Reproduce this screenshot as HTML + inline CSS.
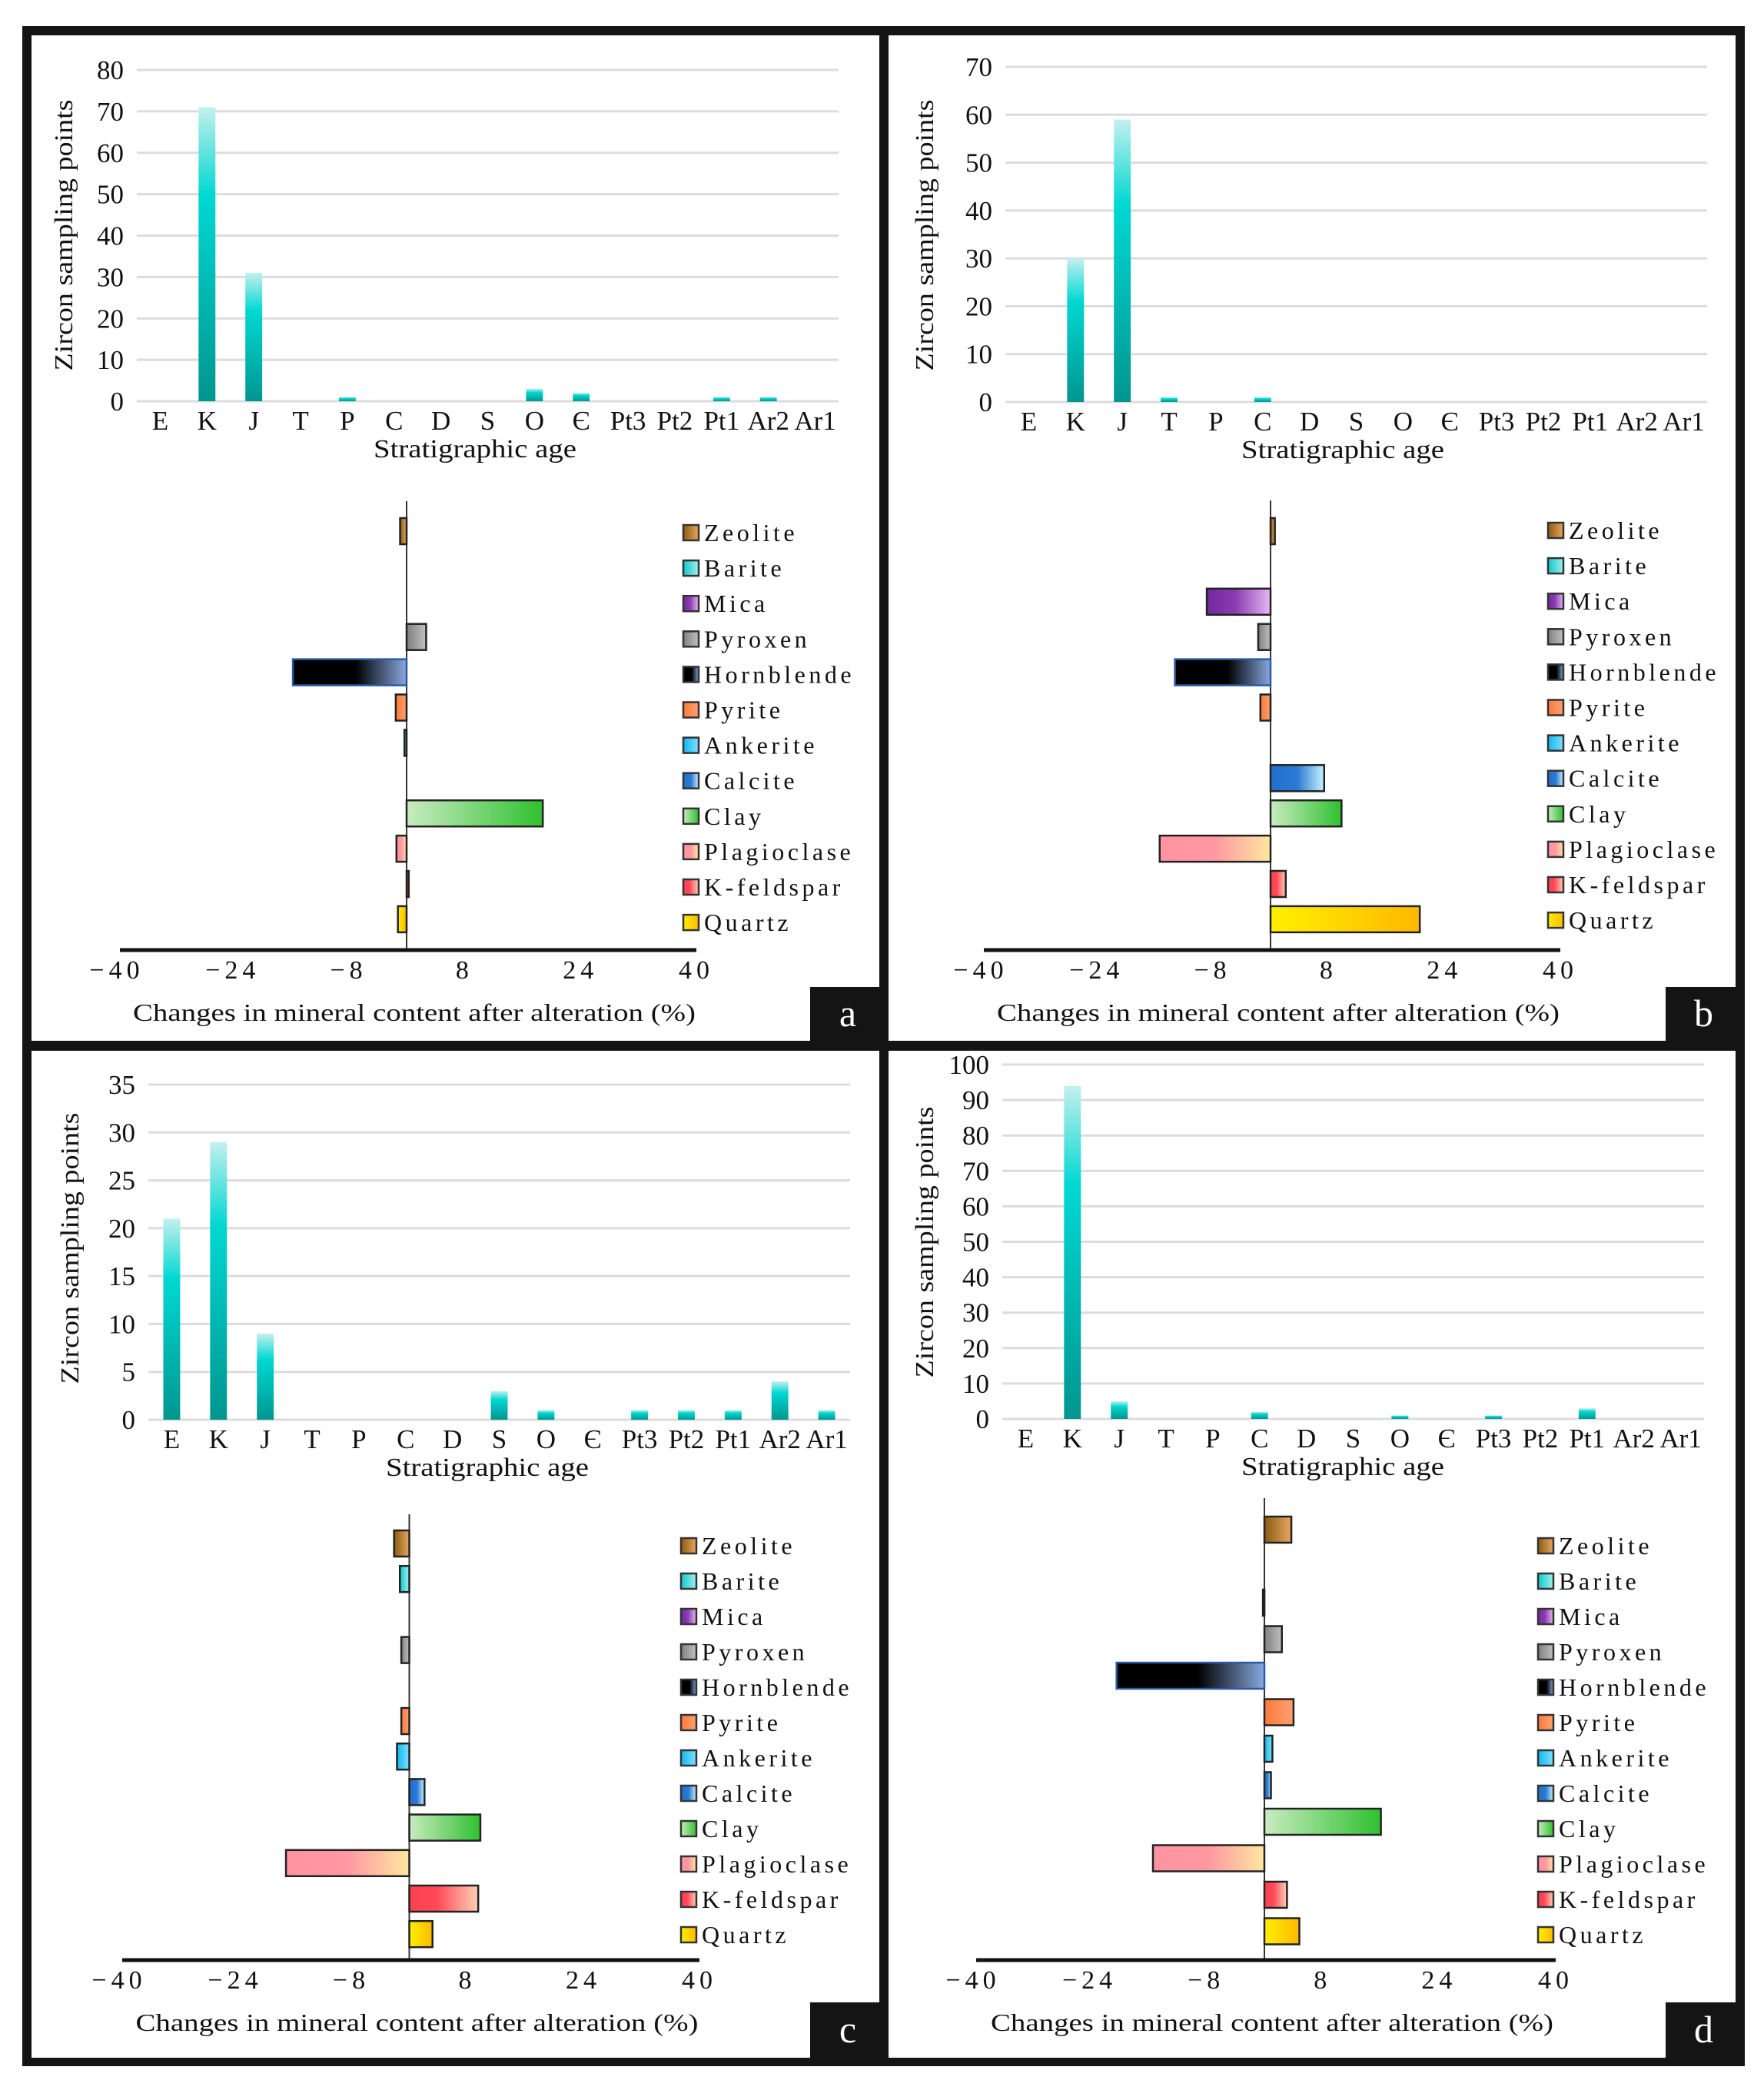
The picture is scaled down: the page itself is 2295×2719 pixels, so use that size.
<!DOCTYPE html>
<html><head><meta charset="utf-8"><style>
html,body{margin:0;padding:0;background:#fff;}
svg{display:block;font-family:"Liberation Serif",serif;}
</style></head><body>
<svg id="fig" width="2295" height="2719" viewBox="0 0 2295 2719" xmlns="http://www.w3.org/2000/svg">
<defs>
<linearGradient id="gTop" x1="0" y1="0" x2="0" y2="1"><stop offset="0" stop-color="#c4f0ee"/><stop offset="0.3" stop-color="#00d8d2"/><stop offset="1" stop-color="#00968f"/></linearGradient>
<linearGradient id="gZeolite" x1="0" x2="1"><stop offset="0" stop-color="#8a5a12"/><stop offset="1" stop-color="#e8a860"/></linearGradient>
<linearGradient id="gBarite" x1="0" x2="1"><stop offset="0" stop-color="#10c8c8"/><stop offset="1" stop-color="#a0f0f0"/></linearGradient>
<linearGradient id="gMica" x1="0" x2="1"><stop offset="0" stop-color="#7428a0"/><stop offset="0.45" stop-color="#8a3cb0"/><stop offset="1" stop-color="#e8b8f4"/></linearGradient>
<linearGradient id="gPyroxen" x1="0" x2="1"><stop offset="0" stop-color="#808080"/><stop offset="1" stop-color="#c0c0c0"/></linearGradient>
<linearGradient id="gHornblende" x1="0" x2="1"><stop offset="0" stop-color="#000"/><stop offset="0.55" stop-color="#000"/><stop offset="1" stop-color="#88a8e0"/></linearGradient>
<linearGradient id="gPyrite" x1="0" x2="1"><stop offset="0" stop-color="#ff7a3a"/><stop offset="1" stop-color="#ffa070"/></linearGradient>
<linearGradient id="gAnkerite" x1="0" x2="1"><stop offset="0" stop-color="#10b8f0"/><stop offset="1" stop-color="#80e0ff"/></linearGradient>
<linearGradient id="gCalcite" x1="0" x2="1"><stop offset="0" stop-color="#2070d0"/><stop offset="0.5" stop-color="#2a7ad4"/><stop offset="1" stop-color="#c8f4ff"/></linearGradient>
<linearGradient id="gClay" x1="0" x2="1"><stop offset="0" stop-color="#c8ecc0"/><stop offset="1" stop-color="#30c030"/></linearGradient>
<linearGradient id="gPlagioclase" x1="0" x2="1"><stop offset="0" stop-color="#ff94a0"/><stop offset="0.5" stop-color="#ff98a2"/><stop offset="1" stop-color="#ffe8a0"/></linearGradient>
<linearGradient id="gKfeldspar" x1="0" x2="1"><stop offset="0" stop-color="#ff4050"/><stop offset="0.4" stop-color="#ff4858"/><stop offset="1" stop-color="#ffd0b8"/></linearGradient>
<linearGradient id="gQuartz" x1="0" x2="1"><stop offset="0" stop-color="#fff000"/><stop offset="1" stop-color="#ffb800"/></linearGradient>
</defs>
<rect x="29" y="34" width="2241" height="2654" fill="#141414"/>
<rect x="41" y="46" width="1103" height="1308" fill="#fff"/>
<rect x="1156" y="46" width="1102" height="1308" fill="#fff"/>
<rect x="41" y="1367" width="1103" height="1310" fill="#fff"/>
<rect x="1156" y="1367" width="1102" height="1310" fill="#fff"/>
<g id="root"></g>
</svg>
<script>
const ageCats = ["E","K","J","T","P","C","D","S","O","\u0404","Pt3","Pt2","Pt1","Ar2","Ar1"];
const zirconA = [0,71,31,0,1,0,0,0,3,2,0,0,1,1,0];
const zirconB = [0,30,59,1,0,1,0,0,0,0,0,0,0,0,0];
const zirconC = [21,29,9,0,0,0,0,3,1,0,1,1,1,4,1];
const zirconD = [0,94,5,0,0,2,0,0,1,0,1,0,3,0,0];
const yTicksA = [0,10,20,30,40,50,60,70,80];
const yTicksB = [0,10,20,30,40,50,60,70];
const yTicksC = [0,5,10,15,20,25,30,35];
const yTicksD = [0,10,20,30,40,50,60,70,80,90,100];
const minerals = ["Zeolite","Barite","Mica","Pyroxen","Hornblende","Pyrite","Ankerite","Calcite","Clay","Plagioclase","K-feldspar","Quartz"];
const changeA = [-0.9,0,0,2.7,-15.7,-1.5,-0.3,0,18.8,-1.4,0.3,-1.2];
const changeB = [0.6,0,-8.8,-1.7,-13.2,-1.4,0,7.4,9.8,-15.3,2.1,20.6];
const changeC = [-2.1,-1.3,0,-1.1,0,-1.1,-1.7,2.1,9.8,-17.0,9.5,3.2];
const changeD = [3.7,0,-0.2,2.4,-20.3,4.0,1.1,0.9,16.0,-15.3,3.1,4.8];
const xTicks = [-40,-24,-8,8,24,40];
const xMin = -40, xMax = 40;

const NS = "http://www.w3.org/2000/svg";
const root = document.getElementById("root");
const gradIds = ["gZeolite","gBarite","gMica","gPyroxen","gHornblende","gPyrite","gAnkerite","gCalcite","gClay","gPlagioclase","gKfeldspar","gQuartz"];
function mk(tag, attrs, parent, txt){
  const e = document.createElementNS(NS, tag);
  for (const k in attrs) e.setAttribute(k, attrs[k]);
  if (txt !== undefined) e.textContent = txt;
  (parent || root).appendChild(e);
  return e;
}
function slug(s){return s.toLowerCase().replace(/[^a-z0-9]+/g,'-').replace(/^-|-$/g,'') || 'cambrian';}

function topChart(p, vals, ticks){
  const g = mk("g", {});
  
  
  const max = ticks[ticks.length-1];
  const yS = v => p.yBot - v / max * (p.yBot - p.yTop);
  const band = (p.x1 - p.x0) / ageCats.length;
  ticks.forEach(t => {
    const y = yS(t);
    const l = mk("line", {x1:p.x0, x2:p.x1, y1:y, y2:y, stroke:"#dcdcdc", "stroke-width":3}, g);
    
    
    const tx = mk("text", {x:p.x0-17, y:y+12, "text-anchor":"end", "font-size":35, fill:"#111"}, g, String(t));
    
    
  });
  ageCats.forEach((c, i) => {
    const cx = p.x0 + band * (i + 0.5);
    const v = vals[i];
    if (v > 0) {
      const r = mk("rect", {x:cx - band*0.18, width:band*0.36, y:yS(v), height:p.yBot - yS(v), fill:"url(#gTop)"}, g);
      
      
    }
    const t = mk("text", {x:cx, y:p.yBot+37, "text-anchor":"middle", "font-size":35, fill:"#111"}, g, c);
    
    
  });
  const xt = mk("text", {x:p.xtx, y:p.yBot+73, "text-anchor":"middle", "font-size":34, fill:"#111", textLength:264, lengthAdjust:"spacingAndGlyphs"}, g, "Stratigraphic age");
  
  
  const yt = mk("text", {x:0, y:0, "text-anchor":"middle", "font-size":34, fill:"#111", textLength:353, lengthAdjust:"spacingAndGlyphs", transform:`translate(${p.ytx},${p.yty}) rotate(-90)`}, g, "Zircon sampling points");
  
  
}

function bottomChart(p, vals){
  const g = mk("g", {});
  
  
  const xS = v => p.L + (v - xMin) / (xMax - xMin) * (p.R - p.L);
  const z = xS(0);
  const vl = mk("line", {x1:z, x2:z, y1:p.lineTop, y2:p.axisY, stroke:"#333", "stroke-width":2}, g);
  
  
  minerals.forEach((m, i) => {
    const v = vals[i];
    const cy = p.row0 + p.rowStep * i;
    if (v !== 0) {
      const x = Math.min(xS(v), z), w = Math.max(Math.abs(xS(v) - z), 2);
      const r = mk("rect", {x:x, y:cy-17, width:w, height:34, fill:`url(#${gradIds[i]})`, stroke: m === "Hornblende" ? "#2a5aa8" : "#222", "stroke-width":2.5}, g);
      
      
    }
    const ly = p.leg0 + p.legStep * i;
    const sq = mk("rect", {x:p.legX, y:ly-10, width:20, height:20, fill:`url(#${gradIds[i]})`, stroke:"#333", "stroke-width":2.5}, g);
    
    
    const lt = mk("text", {x:p.legX+27, y:ly+11, "font-size":32, "letter-spacing":"4.5", fill:"#111"}, g, m);
    
    
  });
  const ax = mk("line", {x1:p.L+4, x2:p.R, y1:p.axisY, y2:p.axisY, stroke:"#111", "stroke-width":5}, g);
  
  
  xTicks.forEach(t => {
    const s = t < 0 ? "\u2212" + Math.abs(t) : String(t);
    const tt = mk("text", {x:xS(t), y:p.axisY+37, "text-anchor":"middle", "font-size":34, "letter-spacing":"6", fill:"#111"}, g, s);
    
    
  });
  const xt = mk("text", {x:(p.L+p.R)/2+10, y:p.axisY+92, "text-anchor":"middle", "font-size":32, fill:"#111", textLength:732, lengthAdjust:"spacingAndGlyphs"}, g, "Changes in mineral content after alteration (%)");
  
  
  const lb = mk("rect", {x:p.boxX, y:p.boxY, width:p.boxW, height:p.boxH, fill:"#141414"}, g);
  
  
  const lt = mk("text", {x:p.boxX+p.boxW/2+4, y:p.boxY+p.boxH/2+16, "text-anchor":"middle", "font-size":50, fill:"#fff"}, g, p.id);
  
  
}

topChart({id:"a", x0:178, x1:1091, yTop:91, yBot:522, xtx:618, ytx:94, yty:306}, zirconA, yTicksA);
topChart({id:"b", x0:1308, x1:2221, yTop:87, yBot:523, xtx:1747, ytx:1214, yty:306}, zirconB, yTicksB);
topChart({id:"c", x0:193, x1:1106, yTop:1411, yBot:1847, xtx:634, ytx:102, yty:1624}, zirconC, yTicksC);
topChart({id:"d", x0:1304, x1:2217, yTop:1385, yBot:1846, xtx:1747, ytx:1214, yty:1616}, zirconD, yTicksD);

bottomChart({id:"a", L:152, R:906, axisY:1236, lineTop:652, row0:691, rowStep:45.9, legX:889, leg0:693, legStep:46.1, boxX:1054, boxY:1284, boxW:90, boxH:70}, changeA);
bottomChart({id:"b", L:1276, R:2030, axisY:1236, lineTop:651, row0:691, rowStep:45.9, legX:2014, leg0:690, legStep:46.1, boxX:2167, boxY:1284, boxW:91, boxH:70}, changeB);
bottomChart({id:"c", L:155, R:910, axisY:2550, lineTop:1970, row0:2008, rowStep:46.2, legX:886, leg0:2011, legStep:46, boxX:1054, boxY:2605, boxW:90, boxH:72}, changeC);
bottomChart({id:"d", L:1266, R:2024, axisY:2550, lineTop:1949, row0:1990, rowStep:47.5, legX:2001, leg0:2011, legStep:46, boxX:2167, boxY:2605, boxW:91, boxH:72}, changeD);
</script>
</body></html>
